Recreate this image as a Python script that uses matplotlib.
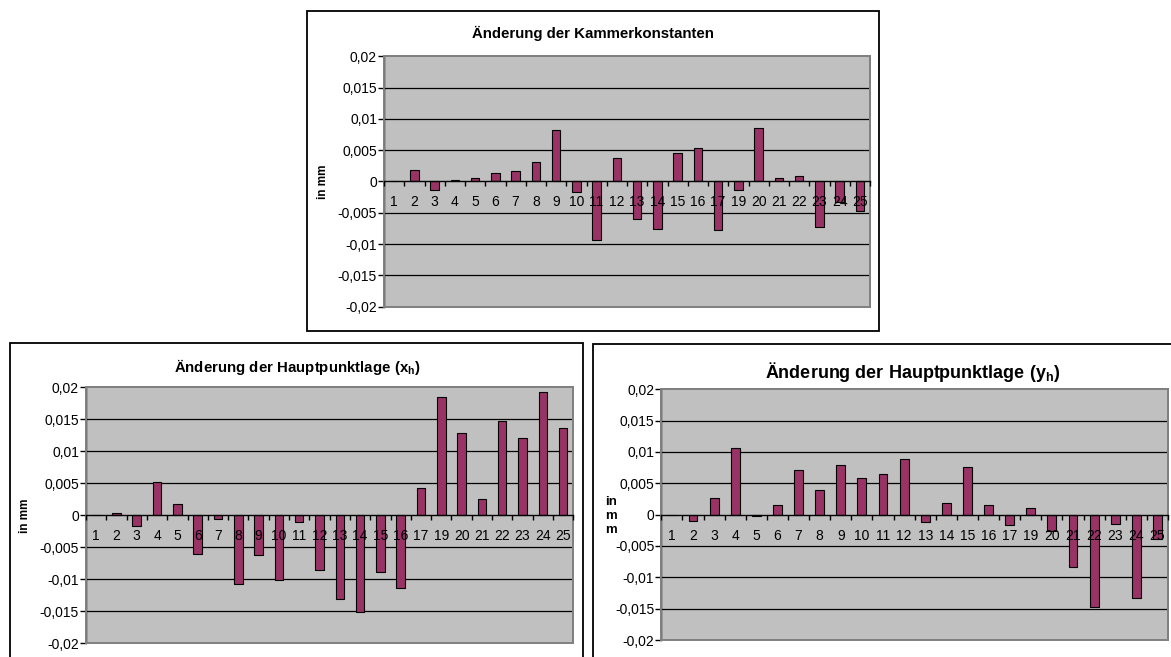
import matplotlib
matplotlib.use('Agg')
import matplotlib.pyplot as plt
from matplotlib.patches import Rectangle
import numpy as np

# Bildnummern (18 fehlt)
categories = ['1', '2', '3', '4', '5', '6', '7', '8', '9', '10', '11', '12',
              '13', '14', '15', '16', '17', '19', '20', '21', '22', '23', '24', '25']

# Aenderung der Kammerkonstanten in mm
kammer = [0.0, 0.0019, -0.0014, 0.0003, 0.0006, 0.0014, 0.0016, 0.0031,
          0.0082, -0.0016, -0.0093, 0.0038, -0.0060, -0.0076, 0.0045, 0.0053,
          -0.0077, -0.0014, 0.0085, 0.0006, 0.0009, -0.0072, -0.0033, -0.0047]

# Aenderung der Hauptpunktlage x_h in mm
xh = [0.0, 0.0003, -0.0016, 0.0052, 0.0018, -0.0060, -0.0005, -0.0108,
      -0.0062, -0.0101, -0.0010, -0.0085, -0.0131, -0.0151, -0.0089, -0.0113,
      0.0043, 0.0185, 0.0129, 0.0026, 0.0147, 0.0121, 0.0193, 0.0137]

# Aenderung der Hauptpunktlage y_h in mm
yh = [0.0, -0.0010, 0.0027, 0.0107, -0.0002, 0.0015, 0.0071, 0.0039,
      0.0079, 0.0058, 0.0065, 0.0088, -0.0011, 0.0018, 0.0076, 0.0016,
      -0.0016, 0.0010, -0.0026, -0.0083, -0.0147, -0.0015, -0.0133, -0.0039]

ytick_vals = [-0.02, -0.015, -0.01, -0.005, 0.0, 0.005, 0.01, 0.015, 0.02]
ytick_text = ['-0,02', '-0,015', '-0,01', '-0,005', '0', '0,005', '0,01', '0,015', '0,02']

plt.rcParams['font.family'] = ['Liberation Sans', 'DejaVu Sans']
plt.rcParams['mathtext.fontset'] = 'custom'
plt.rcParams['mathtext.rm'] = 'Liberation Sans'
plt.rcParams['mathtext.bf'] = 'Liberation Sans:bold'

W, H = 1171, 657
fig = plt.figure(figsize=(W / 100, H / 100), dpi=100)


def px_box(x0, y0, x1, y1):
    # pixel box (top-left origin) -> figure fraction rect
    return [x0 / W, 1 - y1 / H, (x1 - x0) / W, (y1 - y0) / H]


def frame(x0, y0, x1, y1):
    r = px_box(x0, y0, x1, y1)
    fig.add_artist(Rectangle((r[0], r[1]), r[2], r[3], transform=fig.transFigure,
                             fill=False, edgecolor='black', linewidth=1.3))


def bar_chart(rect, values):
    ax = fig.add_axes(rect)
    x = np.arange(len(categories))
    ax.set_facecolor('#C0C0C0')
    ax.bar(x, values, width=0.42, color='#993366', edgecolor='black',
           linewidth=0.8, zorder=2)
    ax.set_xlim(-0.5, len(categories) - 0.5)
    ax.set_ylim(-0.02, 0.02)

    # horizontal grid lines
    for v in ytick_vals[1:-1]:
        if v != 0:
            ax.axhline(v, color='black', linewidth=0.9, zorder=1)

    ax.set_yticks(ytick_vals)
    ax.set_yticklabels(ytick_text)
    ax.tick_params(axis='y', length=4, width=1, direction='out', pad=1,
                   labelsize=10, color='black')

    ax.set_xticks(x)
    ax.set_xticklabels(categories)
    ax.set_xticks(np.arange(-0.5, len(categories)), minor=True)
    ax.tick_params(axis='x', which='major', length=0, pad=10, labelsize=10)
    ax.tick_params(axis='x', which='minor', length=3.5, width=1,
                   direction='out', color='black')
    # category labels are drawn over the bars, as in the original
    ax.xaxis.set_zorder(5)

    ax.spines['bottom'].set_position(('data', 0))
    ax.spines['bottom'].set_color('black')
    ax.spines['bottom'].set_linewidth(1.0)
    ax.spines['bottom'].set_zorder(4)
    ax.spines['left'].set_color('black')
    ax.spines['left'].set_linewidth(1.0)
    for s in ['top', 'right']:
        ax.spines[s].set_color('#808080')
        ax.spines[s].set_linewidth(1.4)
    ax.add_patch(Rectangle((0, 0), 1, 1, transform=ax.transAxes, fill=False,
                           edgecolor='#808080', linewidth=1.4, zorder=3,
                           clip_on=False))
    return ax


# Oben: Kammerkonstante
frame(307.5, 10.7, 879.3, 330.7)
ax1 = bar_chart(px_box(384, 56.3, 870, 306.7), kammer)
ax1.set_ylabel('in mm', fontsize=8.5, fontweight='bold')
ax1.yaxis.set_label_coords(-0.113, 0.5)
fig.text(593 / W, 1 - 33 / H, 'Änderung der Kammerkonstanten', ha='center',
         va='center', fontsize=10.8, fontweight='bold')

# Unten links: x_h
frame(10, 342.7, 582.7, 680)
ax2 = bar_chart(px_box(86, 387.3, 573.3, 643.3), xh)
ax2.set_ylabel('in mm', fontsize=8.5, fontweight='bold')
ax2.yaxis.set_label_coords(-0.113, 0.5)
fig.text(297 / W, 1 - 367 / H, r'Änderung der Hauptpunktlage (x$_\mathbf{h}$)',
         ha='center', va='center', fontsize=10.8, fontweight='bold')

# Unten rechts: y_h
frame(592.7, 343.5, 1190, 680)
ax3 = bar_chart(px_box(661.3, 389.3, 1168, 640), yh)
fig.text(611 / W, 1 - 516 / H, 'in\nm\nm', ha='center', va='center',
         fontsize=9.5, fontweight='bold', linespacing=1.25)
fig.text(913 / W, 1 - 372 / H, r'Änderung der Hauptpunktlage (y$_\mathbf{h}$)',
         ha='center', va='center', fontsize=13, fontweight='bold')

fig.savefig('out.png', dpi=100)
